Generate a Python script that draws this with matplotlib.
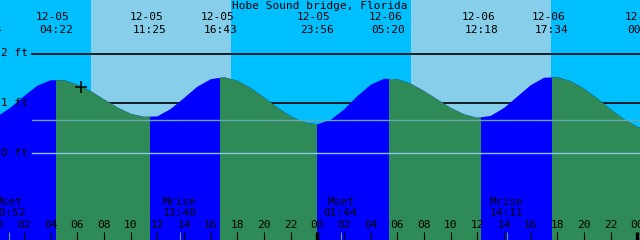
#!/usr/bin/env python3
"""
plot.py: two-day tide graph for Hobe Sound bridge, Florida (xtide style)

Usage:
    python plot.py
Writes out.png (640x240).
"""
import numpy as np
import matplotlib
matplotlib.use('Agg')
import matplotlib.pyplot as plt
from matplotlib.patches import Rectangle

# ---- data (hours counted from 12-05 00:00) ----
hours = list(range(0, 50))
levels = [0.73, 0.91, 1.14, 1.35, 1.46, 1.46, 1.37, 1.24, 1.07, 0.91,
          0.78, 0.72, 0.73, 0.88, 1.10, 1.33, 1.48, 1.52, 1.45, 1.30,
          1.11, 0.91, 0.73, 0.61, 0.57, 0.66, 0.87, 1.14, 1.37, 1.49,
          1.48, 1.39, 1.24, 1.07, 0.90, 0.77, 0.70, 0.74, 0.90, 1.13,
          1.36, 1.51, 1.52, 1.44, 1.29, 1.09, 0.87, 0.67, 0.52, 0.43]

# high / low tide events
event_hours = [-0.93, 4.37, 11.42, 16.72, 23.93, 29.33, 36.30, 41.57, 48.50]
event_kinds = ['low', 'high', 'low', 'high', 'low', 'high', 'low', 'high', 'low']
event_dates = ['12-04', '12-05', '12-05', '12-05', '12-05',
               '12-06', '12-06', '12-06', '12-07']
event_times = ['23:04', '04:22', '11:25', '16:43', '23:56',
               '05:20', '12:18', '17:34', '00:30']

# sunrise / sunset (daylight spans)
sunrise_hours = [7.02, 31.02]
sunset_hours = [17.52, 41.53]

# moon events
moon_hours = [0.87, 13.67, 25.73, 38.18]
moon_names = ['Mset', 'Mrise', 'Mset', 'Mrise']
moon_times = ['00:52', '13:40', '01:44', '14:11']

# depth lines
depth_levels = [0, 1, 2]
depth_labels = ['0 ft', '1 ft', '2 ft']
msl_level = 0.65

# "now" marker
now_hour = 6.27
now_level = 1.33

station = 'Hobe Sound bridge, Florida'

# colours
NIGHT = '#00BFFF'
DAY = '#87CEEB'
FLOOD = '#0000FF'
EBB = '#2E8B57'
DATUM = '#8CC8E6'
MSL = '#6AA8B0'
MOONTICK = '#6A9A9A'

FONT = dict(family='DejaVu Sans Mono', fontsize=8, color='black')


def label(ax, x, yfrac, s, dx=0):
    # centred text, x in hours, y as fraction of the height
    ax.annotate(s, (x, yfrac), xycoords=ax.get_xaxis_transform(),
                xytext=(dx, 0), textcoords='offset pixels',
                ha='center', va='center', zorder=6,
                annotation_clip=False, **FONT)


def main():
    fig = plt.figure(figsize=(6.4, 2.4), dpi=100)
    ax = fig.add_axes([0, 0, 1, 1])

    # 13.33 px per hour, 49.5 px per foot
    x0 = 0.19
    ax.set_xlim(x0, x0 + 48)
    ax.set_ylim((152.5 - 240) / 49.5, 152.5 / 49.5)
    ax.axis('off')
    ax.set_facecolor(NIGHT)
    fig.patch.set_facecolor(NIGHT)
    ymin, ymax = ax.get_ylim()

    # daylight
    for sr, ss in zip(sunrise_hours, sunset_hours):
        ax.axvspan(sr, ss, color=DAY, lw=0, zorder=0)

    # 1 ft line goes behind water, 2 ft above sky
    ax.axhline(1, xmin=32 / 640, color='black', lw=1.2, zorder=1)
    ax.axhline(2, xmin=32 / 640, color='black', lw=1.2, zorder=1)

    # water: flood blue, ebb green (clip to each falling stretch)
    ax.fill_between(hours, levels, ymin, color=FLOOD, lw=0, zorder=2)
    for i in range(len(event_hours) - 1):
        if event_kinds[i] != 'high':
            continue
        t0, t1 = event_hours[i], event_hours[i + 1]
        poly = ax.fill_between(hours, levels, ymin, color=EBB, lw=0, zorder=3)
        clip = Rectangle((t0, ymin), t1 - t0, ymax - ymin,
                         transform=ax.transData)
        poly.set_clip_path(clip)

    # datum and mean sea level lines over the water
    ax.axhline(0, xmin=32 / 640, color=DATUM, lw=1.0, zorder=4)
    ax.axhline(msl_level, xmin=32 / 640, color=MSL, lw=1.0, zorder=4)

    # depth labels
    for lev, lab in zip(depth_levels, depth_labels):
        ax.text(1 / 640, lev, lab, transform=ax.get_yaxis_transform(),
                ha='left', va='center', zorder=6, **FONT)

    # now marker
    ax.plot(now_hour, now_level, marker='+', ms=9, mew=1.1,
            color='black', zorder=6)

    # title and tide event labels
    ax.text(0.5, 1 - 6 / 240, station, transform=ax.transAxes,
            ha='center', va='center', zorder=6, **FONT)
    for t, d, s in zip(event_hours, event_dates, event_times):
        label(ax, t, 1 - 17 / 240, d, dx=-3)
        label(ax, t, 1 - 30 / 240, s)

    # moon events
    tx = ax.get_xaxis_transform()
    for t, n, s in zip(moon_hours, moon_names, moon_times):
        label(ax, t, 38 / 240, n)
        label(ax, t, 27 / 240, s)
        ax.vlines(t, 0, 8 / 240, transform=tx, color=MOONTICK,
                  lw=0.8, zorder=5)

    # hour ticks along the bottom
    for h in range(0, 49, 2):
        label(ax, h, 15 / 240, '%02d' % (h % 24))
        lw = 2.4 if h % 24 == 0 else 0.8
        ax.vlines(h, 0, 8 / 240, transform=tx, color='black',
                  lw=lw, zorder=5)

    fig.savefig('out.png', dpi=100, facecolor=fig.get_facecolor())
    print('saved out.png')


if __name__ == '__main__':
    main()
